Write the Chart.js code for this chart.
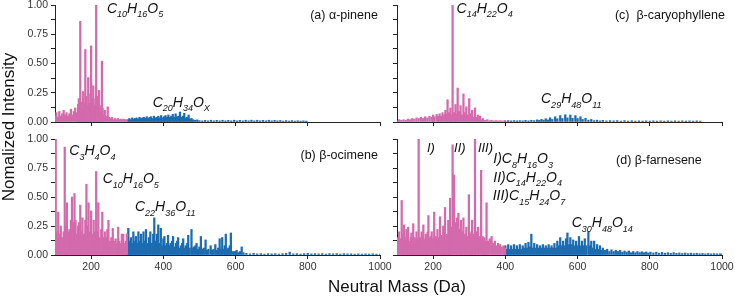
<!DOCTYPE html>
<html><head><meta charset="utf-8">
<script src="https://cdn.jsdelivr.net/npm/chart.js@4.4.1/dist/chart.umd.min.js"></script>
<style>
html,body{margin:0;padding:0;background:#fff;}
#wrap{position:relative;width:735px;height:299px;overflow:hidden;background:#fff;}
#wrap canvas{position:absolute;left:0;top:0;}
</style></head><body>
<div id="wrap">
<canvas id="cA" width="735" height="299"></canvas>
<canvas id="cB" width="735" height="299"></canvas>
<canvas id="cC" width="735" height="299"></canvas>
<canvas id="cD" width="735" height="299"></canvas>
</div>
<script>
// ---------- tick labels ----------
const massTicks = [200, 400, 600, 800, 1000];
const intensityTicks = [0, 0.125, 0.25, 0.375, 0.5, 0.625, 0.75, 0.875, 1];
const labelledIntensity = [0, 0.25, 0.5, 0.75, 1];

// ---------- (a) alpha-pinene ----------
const aMonoMass = [100,104,108,112,116,120,124,128,132,136,140,144,148,152,156,160,164,
  166,168,170,172,174,176,178,180,182,184,186,188,190,192,194,196,198,200,202,204,206,208,210,212,214,216,218,220,222,224,226,228,230,232,234,
  238,242,246,250,254,258,262,266,270,274,278,282,286,290,294,298];
const aMonoInt = [.05,.08,.04,.09,.05,.07,.10,.06,.08,.05,.07,.11,.06,.09,.12,.08,.15,
  .20,.10,.86,.17,.08,.12,.26,.10,.16,.62,.22,.10,.14,.38,.12,.16,.24,.65,.20,.10,.31,.14,.12,.20,1.00,.22,.10,.14,.27,.08,.10,.14,.52,.12,.06,
  .10,.05,.13,.04,.03,.04,.02,.03,.02,.03,.02,.025,.02,.025,.02,.02];
const aDimerMass = [302,306,310,314,318,322,326,330,334,338,342,346,350,354,358,362,366,370,374,378,382,386,390,394,398,402,406,410,414,418,
  422,426,430,434,438,442,446,450,454,458,462,466,470,474,478,482,488,494,500,
  508,516,524,532,540,548,556,564,572,580,588,596,604,612,620,628,636,644,652,660,668,676,684,692,700,708,716,724,732,740,748,756,764,772,780,788,796];
const aDimerInt = [.02,.03,.02,.035,.025,.03,.035,.025,.04,.03,.035,.04,.03,.045,.03,.04,.045,.03,.05,.035,.04,.05,.035,.055,.035,.045,.055,.04,.06,.04,
  .05,.065,.04,.07,.045,.05,.085,.04,.05,.075,.035,.04,.06,.025,.03,.02,.015,.018,.012,
  .01,.014,.01,.015,.01,.014,.01,.015,.01,.014,.01,.015,.01,.014,.01,.015,.01,.016,.01,.015,.01,.014,.01,.015,.01,.014,.01,.013,.008,.012,.008,.012,.008,.011,.008,.01,.008];

// ---------- (b) beta-ocimene ----------
const bMonoMass = [100,102,105,109,112,116,120,124,127,130,133,136,140,144,147,150,154,157,160,164,167,170,173,176,180,184,187,190,193,196,
  200,204,207,210,214,217,220,224,228,231,234,238,242,245,248,252,256,260,264,268,272,275,278,282,285,289,292,296,299];
const bMonoInt = [.15,1.00,.20,.37,.18,.25,.15,.20,.93,.25,.45,.20,.22,.30,.50,.28,.53,.30,.18,.25,.28,.43,.20,.32,.18,.30,.61,.25,.45,.20,
  .38,.18,.30,.20,.72,.20,.45,.15,.22,.37,.15,.20,.15,.22,.30,.12,.15,.23,.12,.14,.10,.24,.12,.10,.18,.18,.10,.12,.18];
const bDimerMass = [300,303,307,310,314,317,321,324,328,331,335,338,342,345,349,352,356,360,364,368,372,375,379,382,386,390,393,397,400,403,
  407,410,413,417,420,424,427,431,435,438,441,445,449,452,455,459,462,466,469,473,478,481,485,489,492,496,500,504,508,512,
  517,521,525,531,535,539,544,548,552,556,559,563,567,570,573,577,580,584,587,592,596,600,603,608,612,617,622,
  630,640,650,660,670,680,690,700,710,720,730,740,750,760,770,780,790,800,810,820,830,840,850,860,870,880,890,900,910,920,930,940,950,960,970,980,990,1000];
const bDimerInt = [.18,.23,.12,.15,.10,.20,.12,.16,.10,.20,.12,.18,.10,.20,.12,.22,.10,.15,.20,.10,.18,.32,.12,.18,.26,.10,.23,.08,.14,.16,
  .08,.10,.17,.08,.10,.12,.16,.07,.10,.12,.15,.06,.08,.10,.14,.06,.08,.10,.17,.06,.22,.06,.07,.08,.10,.05,.07,.16,.05,.06,
  .13,.04,.05,.08,.04,.05,.09,.04,.06,.14,.05,.15,.05,.08,.18,.05,.06,.08,.19,.03,.03,.03,.04,.02,.03,.07,.02,
  .015,.01,.015,.01,.012,.008,.012,.01,.012,.008,.012,.015,.025,.01,.012,.008,.012,.015,.01,.012,.01,.012,.008,.012,.01,.012,.008,.012,.01,.01,.008,.01,.008,.01,.008,.01,.008,.008];

// ---------- (c) beta-caryophyllene ----------
const cMonoMass = [100,106,112,118,124,130,136,142,148,154,160,166,172,178,184,190,196,200,204,210,214,218,222,226,230,234,238,240,244,248,
  250,254,258,262,264,268,272,276,280,284,288,292,296,300,304,308,312,316,320,324,328,330,334,338,344,350,356,362,368,374,380,386,392,398];
const cMonoInt = [.01,.02,.015,.02,.015,.025,.02,.03,.025,.035,.03,.04,.03,.045,.035,.05,.04,.06,.045,.065,.05,.07,.05,.08,.06,.10,.07,.19,.08,.12,
  .06,1.00,.08,.15,.07,.29,.09,.14,.06,.24,.08,.13,.06,.20,.07,.10,.04,.12,.04,.06,.03,.05,.02,.03,.015,.02,.012,.015,.01,.012,.01,.012,.01,.01];
const cDimerMass = [400,408,416,424,432,440,448,456,464,472,480,488,494,500,506,512,518,524,530,538,544,552,558,566,572,580,586,594,600,608,
  614,622,630,638,646,654,662,670,680,690,700,710,720,730,740,750,760,770,780,790,800,810,820,830,840,850,860,870,880,890,900,910,920,930,940];
const cDimerInt = [.01,.012,.01,.012,.01,.012,.01,.014,.01,.015,.012,.018,.014,.022,.016,.028,.018,.036,.022,.045,.028,.055,.03,.062,.035,.06,.032,.055,.03,.045,
  .022,.032,.016,.022,.012,.016,.01,.014,.01,.012,.01,.012,.008,.012,.008,.011,.008,.01,.008,.01,.008,.01,.008,.01,.008,.01,.008,.01,.008,.01,.008,.01,.008,.01,.008];

// ---------- (d) beta-farnesene ----------
const dMonoMass = [100,103,106,110,113,116,119,122,126,129,131,135,138,140,143,145,149,152,154,157,160,163,166,168,171,173,177,180,182,185,
  187,191,194,196,199,203,207,210,212,215,219,223,226,228,231,233,237,240,242,245,247,250,254,258,262,266,270,274,277,280,
  284,288,292,295,299,303,306,308,312,316,320,324,328,333,337,340,342,345,348,352,357,362,366,371,376,380,385,390,395,399];
const dMonoInt = [.12,.15,.20,.14,.47,.18,.26,.15,.22,.14,.24,.12,.15,.19,.14,.27,.15,.13,.20,.14,1.00,.15,.13,.20,.15,.26,.14,.18,.13,.20,
  .34,.15,.16,.20,.14,.37,.16,.14,.22,.15,.33,.17,.15,.25,.18,.41,.18,.16,.30,.20,.49,.24,.95,.69,.28,.32,.36,.22,.30,.20,
  .32,.18,.24,.16,.52,.18,.20,.30,.18,1.00,.20,.24,.16,.73,.16,.13,.15,.12,.45,.12,.14,.16,.10,.12,.08,.10,.09,.07,.08,.06];
const dDimerMass = [400,404,408,412,416,420,424,428,432,436,440,444,448,452,456,460,464,468,472,476,480,484,488,492,496,500,504,508,512,516,
  520,524,528,532,536,540,544,548,552,556,560,564,568,572,576,580,584,588,592,596,600,604,608,612,616,620,624,
  630,634,638,642,646,650,654,658,662,666,670,
  676,682,688,694,700,706,712,718,724,730,736,742,748,754,760,766,772,778,784,790,796,802,
  810,818,826,834,842,850,858,866,874,882,890,898,906,914,922,930,938,946,954,962,970,978,986,994,1000];
const dDimerInt = [.08,.05,.09,.05,.08,.05,.09,.05,.08,.05,.09,.05,.08,.06,.10,.06,.11,.07,.18,.06,.10,.06,.09,.06,.08,.06,.09,.06,.08,.06,
  .09,.06,.08,.06,.10,.06,.12,.08,.15,.08,.12,.08,.14,.19,.09,.15,.09,.13,.08,.12,.08,.16,.08,.12,.08,.14,.08,
  .20,.08,.12,.06,.12,.05,.09,.05,.08,.04,.06,
  .04,.05,.03,.045,.03,.04,.03,.04,.025,.035,.025,.035,.02,.03,.02,.03,.02,.028,.02,.026,.018,.025,
  .018,.024,.016,.022,.016,.02,.015,.02,.014,.018,.013,.017,.012,.016,.012,.015,.011,.014,.01,.013,.01,.012,.01,.011,.01];

// ---------- styling ----------
const PINK = '#d46aac';
const BLUE = '#1a6cb3';
const FONT = '"Liberation Sans", Arial, Helvetica, sans-serif';
const AXIS = '#222';
const Y_BOX = 50;   // width reserved for y tick labels
const X_BOX = 28;   // height reserved for x tick labels

function drawFormula(ctx, x, y, spec, size) {
  const parts = spec.split('|');
  let cx = x;
  parts.forEach((p, i) => {
    const sub = i % 2 === 1;
    ctx.font = 'italic ' + (sub ? 9 : size) + 'px ' + FONT;
    ctx.fillText(p, cx, sub ? y + 4.5 : y);
    cx += ctx.measureText(p).width;
  });
}

const panels = [
  { id: 'cA', mono: [aMonoMass, aMonoInt], dimer: [aDimerMass, aDimerInt],
    area: {left: 55, right: 380, top: 5, bottom: 122}, xLabels: false, yLabels: true,
    formulas: [ {m: 244, v: 0.934, t: 'C|10|H|16|O|5'}, {m: 370.5, v: 0.131, t: 'C|20|H|34|O|X'} ],
    label: {m: 994, v: 0.906, t: '(a) \u03b1-pinene'} },
  { id: 'cB', mono: [bMonoMass, bMonoInt], dimer: [bDimerMass, bDimerInt],
    area: {left: 55, right: 380, top: 139, bottom: 255}, xLabels: true, yLabels: true,
    formulas: [ {m: 139.7, v: 0.862, t: 'C|3|H|4|O|4'}, {m: 232, v: 0.618, t: 'C|10|H|16|O|5'}, {m: 321.5, v: 0.379, t: 'C|22|H|36|O|11'} ],
    label: {m: 994, v: 0.858, t: '(b) \u03b2-ocimene'}, titles: true },
  { id: 'cC', mono: [cMonoMass, cMonoInt], dimer: [cDimerMass, cDimerInt],
    area: {left: 397, right: 722, top: 5, bottom: 122}, xLabels: false, yLabels: false,
    formulas: [ {m: 265, v: 0.932, t: 'C|14|H|22|O|4'}, {m: 498.8, v: 0.16, t: 'C|29|H|48|O|11'} ],
    label: {m: 1008, v: 0.91, t: '(c)  \u03b2-caryophyllene'} },
  { id: 'cD', mono: [dMonoMass, dMonoInt], dimer: [dDimerMass, dDimerInt],
    area: {left: 397, right: 722, top: 139, bottom: 255}, xLabels: true, yLabels: false,
    formulas: [ {m: 183, v: 0.888, t: 'I)', s: 13}, {m: 258, v: 0.888, t: 'II)', s: 13}, {m: 324, v: 0.888, t: 'III)', s: 13},
                {m: 366.7, v: 0.79, t: 'I)C|8|H|16|O|3'}, {m: 366.7, v: 0.632, t: 'II)C|14|H|22|O|4'}, {m: 365, v: 0.474, t: 'III)C|15|H|24|O|7'},
                {m: 583.8, v: 0.239, t: 'C|30|H|48|O|14'} ],
    label: {m: 944, v: 0.815, t: '(d) \u03b2-farnesene'} }
];

function textPlugin(p) {
  return {
    id: 'texts' + p.id,
    afterDraw(chart) {
      const ctx = chart.ctx, xs = chart.scales.x, ys = chart.scales.y;
      ctx.save();
      ctx.fillStyle = '#111';
      ctx.textAlign = 'left';
      ctx.textBaseline = 'alphabetic';
      p.formulas.forEach(f => drawFormula(ctx, xs.getPixelForValue(f.m), ys.getPixelForValue(f.v), f.t, f.s || 14));
      ctx.font = '12.5px ' + FONT;
      ctx.textAlign = 'right';
      ctx.textBaseline = 'middle';
      ctx.fillText(p.label.t, xs.getPixelForValue(p.label.m), ys.getPixelForValue(p.label.v));
      if (p.titles) {
        ctx.font = '17px ' + FONT;
        ctx.textAlign = 'center';
        ctx.textBaseline = 'alphabetic';
        ctx.fillStyle = '#111';
        ctx.fillText('Neutral Mass (Da)', 397, 291.5);
        ctx.translate(14, 127);
        ctx.rotate(-Math.PI / 2);
        ctx.fillText('Nomalized Intensity', 0, 0);
      }
      ctx.restore();
    }
  };
}

function toPoints(masses, ints) { return masses.map((m, i) => ({x: m, y: ints[i]})); }

panels.forEach(p => {
  new Chart(document.getElementById(p.id), {
    type: 'bar',
    data: { datasets: [
      { data: toPoints(p.mono[0], p.mono[1]), backgroundColor: PINK, borderWidth: 0, barThickness: 1.6, grouped: false },
      { data: toPoints(p.dimer[0], p.dimer[1]), backgroundColor: BLUE, borderWidth: 0, barThickness: 1.6, grouped: false }
    ]},
    options: {
      responsive: false, animation: false, devicePixelRatio: 1,
      layout: { padding: { left: p.area.left - Y_BOX, right: 735 - p.area.right, top: p.area.top, bottom: 299 - p.area.bottom - X_BOX } },
      plugins: { legend: { display: false }, tooltip: { enabled: false } },
      scales: {
        x: {
          type: 'linear', min: 100, max: 1000, offset: false,
          afterBuildTicks: s => { s.ticks = massTicks.map(v => ({value: v})); },
          afterFit: s => { s.height = X_BOX; s.paddingLeft = 0; s.paddingRight = 0; s.paddingTop = 0; s.paddingBottom = 0; },
          ticks: { display: p.xLabels, autoSkip: false, maxRotation: 0, padding: 2, color: '#333',
                   font: { size: 10.5, family: FONT }, callback: v => String(v) },
          grid: { offset: false, drawOnChartArea: false, drawTicks: true, tickLength: 4, tickColor: AXIS, tickWidth: 1 },
          border: { display: true, color: AXIS, width: 1 }
        },
        y: {
          min: 0, max: 1,
          afterBuildTicks: s => { s.ticks = intensityTicks.map(v => ({value: v})); },
          afterFit: s => { s.width = Y_BOX; s.paddingLeft = 0; s.paddingRight = 0; s.paddingTop = 0; s.paddingBottom = 0; },
          ticks: { display: p.yLabels, autoSkip: false, padding: 3, color: '#333',
                   font: { size: 10.5, family: FONT },
                   callback: v => labelledIntensity.some(t => Math.abs(t - v) < 1e-6) ? v.toFixed(2) : '' },
          grid: { drawOnChartArea: false, drawTicks: true, tickLength: 4, tickColor: AXIS, tickWidth: 1 },
          border: { display: true, color: AXIS, width: 1 }
        }
      }
    },
    plugins: [textPlugin(p)]
  });
});
</script>
</body></html>
